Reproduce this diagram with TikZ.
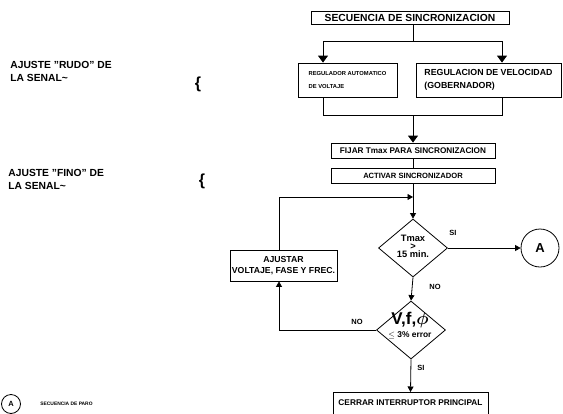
\documentclass[tikz,border=0pt]{standalone}
\usepackage{fontspec}
\setmainfont{Liberation Sans}
\usetikzlibrary{arrows.meta,shapes.geometric}
\begin{document}
\begin{tikzpicture}[x=1pt,y=-1pt,
  every node/.style={font=\bfseries},
  line width=0.8pt,
  box/.style={draw, inner sep=0pt, line width=0.8pt},
  txtbox/.style={box, align=left},
  decision/.style={draw, diamond, inner sep=0pt, line width=0.8pt,
    minimum width=69pt, minimum height=58pt, aspect=1.19},
  dtext/.style={inner sep=0pt, align=center},
  conn/.style={draw, circle, inner sep=0pt, line width=0.8pt},
  arr/.style={-{Triangle[length=5.5pt,width=6pt]}},
  bigarr/.style={-{Triangle[length=7pt,width=10pt]}},
  tag/.style={font=\bfseries\fontsize{7.5}{8}\selectfont, inner sep=0pt},
  side/.style={font=\bfseries\fontsize{10.3}{12.5}\selectfont, align=left, inner sep=0pt, anchor=north west},
  brace/.style={font=\fontsize{16}{16}\selectfont\bfseries, inner sep=0pt}
]
\useasboundingbox (0,0) rectangle (563,413);

% side notes
\node[side] (rudo) at (10,61) {AJUSTE "RUDO" DE\\LA SENAL\~{}};
\node[brace] (br1) at (198,84) {\{};
\node[side] (fino) at (8,169) {AJUSTE "FINO" DE\\LA SENAL\~{}};
\node[brace] (br2) at (202,181) {\{};

% main sequence
\node[box, minimum width=198pt, minimum height=13pt,
      font=\bfseries\fontsize{10.3}{11}\selectfont] (seq) at (410,17.5) {SECUENCIA DE SINCRONIZACION};

\node[txtbox, minimum width=99pt, minimum height=34pt,
      font=\bfseries\fontsize{5.8}{13}\selectfont] (rav) at (347.5,80) {REGULADOR AUTOMATICO\\DE VOLTAJE};
\node[txtbox, minimum width=145pt, minimum height=34pt,
      font=\bfseries\fontsize{8.8}{13}\selectfont] (rvel) at (488.5,80) {REGULACION DE VELOCIDAD\\(GOBERNADOR)};

\node[box, minimum width=164pt, minimum height=15pt,
      font=\bfseries\fontsize{8.2}{9}\selectfont] (fijar) at (413,150.5) {FIJAR Tmax PARA SINCRONIZACION};
\node[box, minimum width=164pt, minimum height=15pt,
      font=\bfseries\fontsize{7.6}{8}\selectfont] (activar) at (413,175.5) {ACTIVAR SINCRONIZADOR};

\node[decision] (d1) at (413,248) {};
\node[dtext, font=\bfseries\fontsize{9.3}{8}\selectfont] (d1txt) at (413,246) {Tmax\\>\\15 min.};
\node[conn, minimum size=38pt, font=\bfseries\fontsize{13}{13}\selectfont] (circA) at (540,248) {A};

\node[decision] (d2) at (411,330) {};
\node[dtext, font=\bfseries\fontsize{17}{17}\selectfont] (d2sym) at (410,320) {V,f,{\boldmath$\phi$}};
\node[dtext, font=\bfseries\fontsize{8.4}{9}\selectfont] (d2err) at (410,335) {$\leq$ 3\% error};

\node[box, minimum width=107pt, minimum height=31pt, align=center,
      font=\bfseries\fontsize{8.7}{11}\selectfont] (ajustar) at (283.5,265.5) {AJUSTAR\\VOLTAJE, FASE Y FREC.};

\node[box, minimum width=155pt, minimum height=26pt, anchor=north] (cerrar) at (410.5,392) {};
\node[inner sep=0pt, font=\bfseries\fontsize{8.3}{9}\selectfont] (cerrartxt) at (410.5,403) {CERRAR INTERRUPTOR PRINCIPAL};

% legend
\node[conn, minimum size=19pt, font=\bfseries\fontsize{7.5}{7.5}\selectfont] (legA) at (11,404) {A};
\node[inner sep=0pt, anchor=west, font=\bfseries\fontsize{4.9}{6}\selectfont] (legtxt) at (40,404) {SECUENCIA DE PARO};

% branch points
\coordinate (splitC) at (413,41);
\coordinate (splitL) at (323,41);
\coordinate (splitR) at (502,41);
\coordinate (joinC) at (413,115);
\coordinate (joinL) at (323,115);
\coordinate (joinR) at (502,115);
\coordinate (merge) at (413,197);
\coordinate (loopX) at (279,0);

% connectors
\draw (seq.south -| splitC) -- (splitC);
\draw (splitL) -- (splitR);
\draw[bigarr] (splitL) -- (rav.north -| splitL);
\draw[bigarr] (splitR) -- (rvel.north -| splitR);
\draw (rav.south -| joinL) -- (joinL) -- (joinR) -- (rvel.south -| joinR);
\draw[bigarr] (joinC) -- (fijar.north);
\draw (fijar.south) -- (activar.north);
\draw (activar.south) -- (merge);
\draw[arr] (merge) -- (d1.north);
\draw[arr] (ajustar.north -| loopX) -- (merge -| loopX) -- (merge);
\draw[arr] (d1.east) -- (circA.west);
\draw[arr] (d1.south) -- (d2.north);
\draw[arr] (d2.west) -- (d2.west -| loopX) -- (ajustar.south -| loopX);
\draw[arr] (d2.south) -- (cerrar.north);

% branch labels
\node[tag] (si1) at (453,233) {SI};
\node[tag] (no1) at (435,287) {NO};
\node[tag] (no2) at (357,322) {NO};
\node[tag] (si2) at (421,368) {SI};
\end{tikzpicture}
\end{document}
